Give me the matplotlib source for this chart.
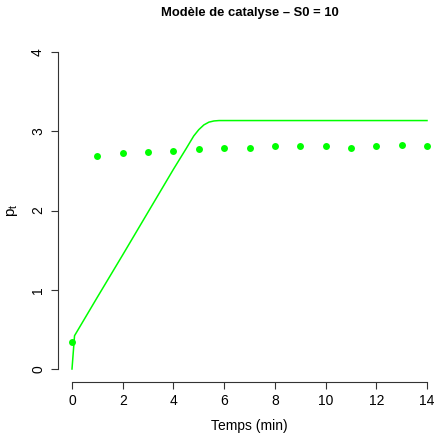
import matplotlib
matplotlib.use("Agg")
import matplotlib.pyplot as plt

plt.rcParams['font.family'] = ['Liberation Sans', 'DejaVu Sans']

# observed points
obs_t = [0, 1, 2, 3, 4, 5, 6, 7, 8, 9, 10, 11, 12, 13, 14]
obs_p = [0.34, 2.69, 2.73, 2.74, 2.755, 2.77, 2.79, 2.79, 2.81, 2.81, 2.81, 2.79, 2.82, 2.83, 2.81]

# model curve
mod_t = [0, 0.1, 1, 2, 3, 4, 4.5, 4.8, 5.0, 5.2, 5.4, 5.6, 5.8, 6.0, 14]
mod_p = [0.0, 0.42, 0.906, 1.44, 1.98, 2.52, 2.78, 2.94, 3.02, 3.08, 3.115, 3.13, 3.135, 3.135, 3.135]

W, H = 438, 436
fig = plt.figure(figsize=(W/100, H/100), dpi=100)

# pixel mapping
x0px, x14px = 72.0, 427.0
y0px, y4px = 369.0, 52.0
sx = (x14px - x0px) / 14
sy = (y0px - y4px) / 4
left_px, right_px = 58.2, 441.0
bot_px, top_px = 381.7, 39.3
xlim = ((left_px - x0px) / sx, (right_px - x0px) / sx)
ylim = ((y0px - bot_px) / sy, (y0px - top_px) / sy)

ax = fig.add_axes([left_px / W, 1 - bot_px / H, (right_px - left_px) / W, (bot_px - top_px) / H])
ax.set_xlim(*xlim)
ax.set_ylim(*ylim)
ax.patch.set_alpha(0)

green = '#00FF00'
ax.plot(mod_t, mod_p, color=green, lw=1.1, clip_on=False)
ax.plot(obs_t, obs_p, 'o', color=green, ms=5.0, mec='none', clip_on=False)

for s in ['top', 'right']:
    ax.spines[s].set_visible(False)
ax.spines['bottom'].set_bounds(0, 14)
ax.spines['left'].set_bounds(0, 4)
for s in ['bottom', 'left']:
    ax.spines[s].set_linewidth(0.8)
    ax.spines[s].set_color('#333333')

ax.set_xticks([0, 2, 4, 6, 8, 10, 12, 14])
ax.set_yticks([0, 1, 2, 3, 4])
ax.tick_params(axis='both', length=5, width=0.8, color='#333333', labelsize=10, pad=3.5)
ax.tick_params(axis='y', pad=4.5)
for lab in ax.get_yticklabels():
    lab.set_rotation(90)
    lab.set_va('center')

ax.set_xlabel('Temps (min)', fontsize=10, labelpad=8)
ax.set_ylabel(r'$\mathregular{p_t}$', fontsize=11, labelpad=8)
fig.text(249.7 / W, 1 - 13 / H, 'Modèle de catalyse – S0 = 10',
         ha='center', va='center', fontsize=9.4, fontweight='bold')

fig.savefig('out.png', dpi=100)
